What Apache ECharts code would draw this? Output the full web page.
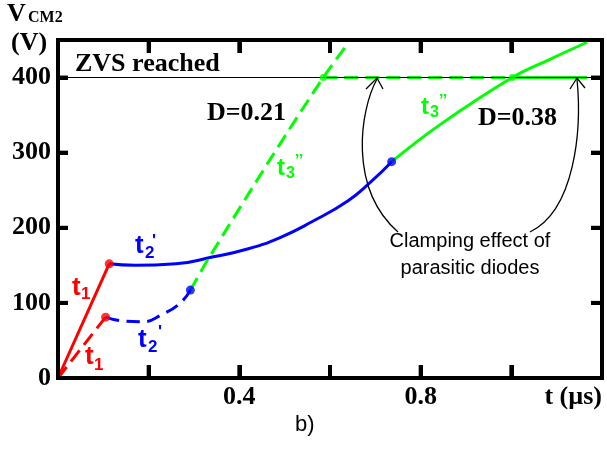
<!DOCTYPE html>
<html><head><meta charset="utf-8">
<script src="https://cdn.jsdelivr.net/npm/echarts@6/dist/echarts.min.js"></script>
<style>html,body{margin:0;padding:0;background:#fff}#c{width:607px;height:450px}</style>
</head><body><div id="c"></div>
<script>
// ---- data ----
const xInterval = 0.2;
const xMax = 1.2;
const xTickValues = [0.2, 0.4, 0.6, 0.8, 1.0];
const xLabelValues = [0.4, 0.8];
const yInterval = 100;
const yMax = 450;
const yTickValues = [100, 200, 300, 400];
const yLabelValues = [0, 100, 200, 300, 400];
const zvsLevel = 400;

const t1Solid = [[0, 0], [0.113, 152]];
const t1Dashed = [[0, 0], [0.105, 81]];
const t2Solid = [[0.113, 152], [0.17, 150], [0.26, 152], [0.34, 161], [0.42, 172], [0.49, 187], [0.56, 208], [0.64, 236], [0.69, 261], [0.736, 288]];
const t2Dashed = [[0.105, 81], [0.143, 76], [0.187, 75], [0.231, 85], [0.270, 100], [0.292, 117]];
const t3Dashed = [[0.292, 117], [0.330, 157], [0.468, 291], [0.585, 400], [0.633, 440]];
const t3Solid = [[0.736, 288], [0.842, 337], [1.002, 400], [1.084, 424], [1.167, 447]];
const clampDashed = [[0.585, 400], [1.167, 400]];
const clampSolid = [[1.002, 400], [1.167, 400]];
const redDots = [[0.113, 152], [0.105, 81]];
const blueDots = [[0.292, 117], [0.736, 288]];
const greenDots = [[0.585, 400], [1.002, 400]];

// ---- styles ----
const RED = '#ff0000', BLUE = '#0000ff', GREEN = '#00ff00';
const SERIF = '"Liberation Serif", "Times New Roman", serif';
const SANS = '"Liberation Sans", Arial, sans-serif';
const GRID = {left: 58, top: 40, width: 544, height: 338};

const chart = echarts.init(document.getElementById('c'));

function near(v, list) { return list.some(a => Math.abs(a - v) < 1e-6); }

function baseAxis(pos, max, interval, tickLen) {
  return {
    type: 'value', min: 0, max: max, interval: interval, position: pos,
    axisLine: {show: true, onZero: false, lineStyle: {color: '#000', width: 4}},
    axisTick: {show: true, inside: true, length: tickLen, lineStyle: {color: '#000', width: 4}},
    splitLine: {show: false},
    axisLabel: {show: false}
  };
}

const xBottom = baseAxis('bottom', xMax, xInterval, 13);
xBottom.axisLabel = {show: true, margin: 6, color: '#000', fontFamily: SERIF, fontWeight: 'bold', fontSize: 26,
  formatter: v => near(v, xLabelValues) ? String(v) : ''};
xBottom.name = 't (µs)';
xBottom.nameLocation = 'end';
xBottom.nameGap = 0;
xBottom.nameTextStyle = {color: '#000', fontFamily: SERIF, fontWeight: 'bold', fontSize: 26, align: 'right', verticalAlign: 'top', padding: [6, 0, 0, 0]};

const xTop = baseAxis('top', xMax, xInterval, 13);

const yLeft = baseAxis('left', yMax, yInterval, 10);
yLeft.axisLabel = {show: true, margin: 7, color: '#000', fontFamily: SERIF, fontWeight: 'bold', fontSize: 26,
  formatter: v => near(v, yLabelValues) ? String(v) : ''};

const yRight = baseAxis('right', yMax, yInterval, 11);

function lineSeries(data, color, dashed, smooth, z) {
  return {
    type: 'line', data: data,
    showSymbol: false, symbol: 'none', smooth: smooth, z: z || 3,
    lineStyle: {color: color, width: 3, type: dashed ? [14, 7] : 'solid'},
    silent: true, animation: false
  };
}
function dotSeries(data, color, size) {
  return {type: 'scatter', data: data, symbol: 'circle', symbolSize: size, itemStyle: {color: color}, z: 6, silent: true, animation: false};
}

function T(text, x, y, font, color, align, valign) {
  return {type: 'text', x: x, y: y, silent: true, z: 100,
    style: {text: text, font: font, fill: color, textAlign: align || 'left', textVerticalAlign: valign || 'middle'}};
}
const fSerifBig = 'bold 26px ' + SERIF;
const fSerifSub = 'bold 16px ' + SERIF;
const fSansT = 'bold 26px ' + SANS;
const fSansSub = 'bold 17px ' + SANS;
const fSansTg = 'bold 24px ' + SANS;
const fSansSubg = 'bold 16px ' + SANS;

const graphics = [
  T('V', 7, 14, fSerifBig, '#000'),
  T('CM2', 28, 18, fSerifSub, '#000'),
  T('(V)', 11, 43, fSerifBig, '#000'),
  T('ZVS reached', 75, 64, fSerifBig, '#000'),
  T('D=0.21', 207, 113, fSerifBig, '#000'),
  T('D=0.38', 478, 118, fSerifBig, '#000'),
  T('t', 72, 288, fSansT, RED), T('1', 81, 294, fSansSub, RED),
  T('t', 85, 357, fSansT, RED), T('1', 94, 365, fSansSub, RED),
  T('t', 135, 246, fSansT, BLUE), T('2', 145, 253, fSansSub, BLUE), T("'", 152, 241, fSansSub, BLUE),
  T('t', 138, 340, fSansT, BLUE), T('2', 148, 347, fSansSub, BLUE), T("'", 158, 332, fSansSub, BLUE),
  T('t', 277, 168, fSansTg, GREEN), T('3', 286, 174, fSansSubg, GREEN), T('\u2019\u2019', 295, 162, fSansSubg, GREEN),
  T('t', 421, 107, fSansTg, GREEN), T('3', 430, 113, fSansSubg, GREEN), T('\u2019\u2019', 439, 102, fSansSubg, GREEN),
  {type: 'text', x: 470, y: 228, silent: true, z: 100,
   style: {text: 'Clamping effect of\nparasitic diodes', font: '20px ' + SANS, fill: '#000', textAlign: 'center', textVerticalAlign: 'top', lineHeight: 27}},
  T('b)', 295, 425, '22px ' + SANS, '#000'),
  {type: 'bezierCurve', silent: true, z: 90, shape: {x1: 398, y1: 232, cpx1: 348, cpy1: 188, cpx2: 360, cpy2: 110, x2: 377, y2: 79},
   style: {stroke: '#000', lineWidth: 1.3, fill: null}},
  {type: 'polyline', silent: true, z: 90, shape: {points: [[366, 89], [377, 78], [383, 89]]}, style: {stroke: '#000', lineWidth: 1.3, fill: null}},
  {type: 'bezierCurve', silent: true, z: 90, shape: {x1: 530, y1: 232, cpx1: 575, cpy1: 210, cpx2: 582, cpy2: 130, x2: 577, y2: 79},
   style: {stroke: '#000', lineWidth: 1.3, fill: null}},
  {type: 'polyline', silent: true, z: 90, shape: {points: [[570, 89], [577, 78], [585, 88]]}, style: {stroke: '#000', lineWidth: 1.3, fill: null}}
];

// Frame with inward ticks (layout of the plot box, matching the grid)
const xl = GRID.left, xr = GRID.left + GRID.width, yt = GRID.top, yb = GRID.top + GRID.height;
const fx = v => xl + v / xMax * GRID.width;
const fy = v => yb - v / yMax * GRID.height;
const frameStyle = {stroke: '#000', lineWidth: 4, fill: null};
graphics.push({type: 'polyline', silent: true, z: 50,
  shape: {points: [[xl, yt], [xr, yt], [xr, yb], [xl, yb], [xl, yt - 2]]}, style: frameStyle});
xTickValues.forEach(v => {
  graphics.push({type: 'polyline', silent: true, z: 50, shape: {points: [[fx(v), yb], [fx(v), yb - 13]]}, style: frameStyle});
  graphics.push({type: 'polyline', silent: true, z: 50, shape: {points: [[fx(v), yt], [fx(v), yt + 13]]}, style: frameStyle});
});
yTickValues.forEach(v => {
  graphics.push({type: 'polyline', silent: true, z: 50, shape: {points: [[xl, fy(v)], [xl + 10, fy(v)]]}, style: frameStyle});
  graphics.push({type: 'polyline', silent: true, z: 50, shape: {points: [[xr, fy(v)], [xr - 11, fy(v)]]}, style: frameStyle});
});

const option = {
  animation: false,
  grid: GRID,
  xAxis: [xBottom, xTop],
  yAxis: [yLeft, yRight],
  series: [
    {type: 'line', data: [], silent: true,
     markLine: {silent: true, symbol: ['none', 'none'], label: {show: false}, animation: false,
       lineStyle: {color: '#000', width: 1.2, type: 'solid'}, data: [{yAxis: zvsLevel}]}},
    lineSeries(clampDashed, GREEN, true, false, 3),
    lineSeries(clampSolid, GREEN, false, false, 3),
    lineSeries(t1Solid, RED, false, false, 4),
    lineSeries(t1Dashed, RED, true, false, 4),
    lineSeries(t2Solid, BLUE, false, 0.5, 4),
    lineSeries(t2Dashed, BLUE, true, 0.5, 4),
    lineSeries(t3Dashed, GREEN, true, 0.3, 4),
    lineSeries(t3Solid, GREEN, false, 0.4, 4),
    dotSeries(redDots, RED, 9),
    dotSeries(blueDots, BLUE, 9),
    dotSeries(greenDots, GREEN, 7)
  ],
  graphic: graphics
};
chart.setOption(option);
</script>
</body></html>
